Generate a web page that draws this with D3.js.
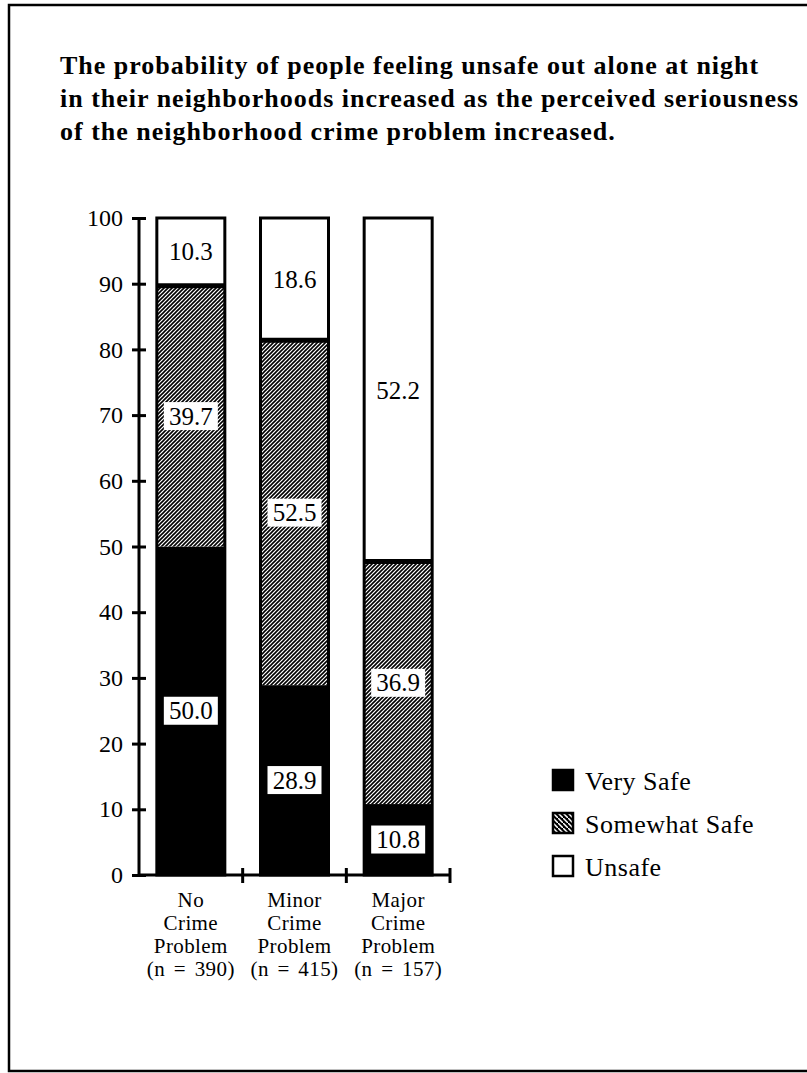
<!DOCTYPE html>
<html>
<head>
<meta charset="utf-8">
<script src="https://cdn.jsdelivr.net/npm/d3@7"></script>
<style>
  body { margin: 0; background: #fff; }
  svg { display: block; }
  text { font-family: "Liberation Serif", "DejaVu Serif", serif; fill: #000; }
</style>
</head>
<body>
<svg id="main_svg" width="807" height="1073"></svg>
<script>
// data
const categories = ["No", "Minor", "Major"]
const cat_lines = [
    ["No", "Crime", "Problem", "(n = 390)"],
    ["Minor", "Crime", "Problem", "(n = 415)"],
    ["Major", "Crime", "Problem", "(n = 157)"]
]
const very_safe = [50.0, 28.9, 10.8]
const somewhat_safe = [39.7, 52.5, 36.9]
const unsafe = [10.3, 18.6, 52.2]
const series_names = ["Very Safe", "Somewhat Safe", "Unsafe"]
const y_ticks = [0, 10, 20, 30, 40, 50, 60, 70, 80, 90, 100]
const title_lines = [
    "The probability of people feeling unsafe out alone at night",
    "in their neighborhoods increased as the perceived seriousness",
    "of the neighborhood crime problem increased."
]

const svg = d3.select("#main_svg")

// frame (no right edge in the scan)
svg.append("path")
    .attr("d", "M830,5 H9 V1071 H830")
    .attr("fill", "none").attr("stroke", "#000").attr("stroke-width", 2.5)

// hatch patterns
const defs = svg.append("defs")
defs.append("pattern")
    .attr("id", "hatch")
    .attr("patternUnits", "userSpaceOnUse")
    .attr("width", 4).attr("height", 4)
    .call(p => {
        p.append("rect").attr("width", 4).attr("height", 4).attr("fill", "#fff")
        p.append("path").attr("d", "M-1,1 l2,-2 M0,4 l4,-4 M3,5 l2,-2")
            .attr("stroke", "#000").attr("stroke-width", 1.6)
    })
defs.append("pattern")
    .attr("id", "hatch_legend")
    .attr("patternUnits", "userSpaceOnUse")
    .attr("width", 5).attr("height", 5)
    .call(p => {
        p.append("rect").attr("width", 5).attr("height", 5).attr("fill", "#000")
        p.append("path").attr("d", "M-1,-1 l2,2 M0,0 l5,5 M4,4 l2,2")
            .attr("stroke", "#fff").attr("stroke-width", 1.5)
    })
const fills = ["#000", "url(#hatch)", "#fff"]
const legend_fills = ["#000", "url(#hatch_legend)", "#fff"]

// title
svg.append("g").selectAll("text")
    .data(title_lines)
    .join("text")
    .attr("x", 60)
    .attr("y", (d, i) => 74 + i * 33)
    .attr("font-size", 26)
    .attr("letter-spacing", 1)
    .attr("font-weight", "bold")
    .text(d => d)

// scales
const y = d3.scaleLinear().domain([0, 100]).range([875, 218])
const x = d3.scaleBand().domain(categories).range([139, 450]).padding(0)
const bar_w = 68

const table = categories.map((c, i) => ({
    cat: c, "Very Safe": very_safe[i], "Somewhat Safe": somewhat_safe[i], "Unsafe": unsafe[i]
}))
const stacked = d3.stack().keys(series_names)(table)

// bar segments
stacked.forEach((layer, k) => {
    svg.append("g").selectAll("rect")
        .data(layer)
        .join("rect")
        .attr("x", d => x(d.data.cat) + (x.bandwidth() - bar_w) / 2)
        .attr("y", d => y(d[1]))
        .attr("width", bar_w)
        .attr("height", d => y(d[0]) - y(d[1]))
        .attr("fill", fills[k])
})

// thick line between hatched and unsafe
svg.append("g").selectAll("line")
    .data(stacked[1])
    .join("line")
    .attr("x1", d => x(d.data.cat) + (x.bandwidth() - bar_w) / 2)
    .attr("x2", d => x(d.data.cat) + (x.bandwidth() + bar_w) / 2)
    .attr("y1", d => y(d[1]))
    .attr("y2", d => y(d[1]))
    .attr("stroke", "#000").attr("stroke-width", 5)

// bar outlines
svg.append("g").selectAll("rect")
    .data(categories)
    .join("rect")
    .attr("x", d => x(d) + (x.bandwidth() - bar_w) / 2)
    .attr("y", y(100))
    .attr("width", bar_w)
    .attr("height", y(0) - y(100))
    .attr("fill", "none")
    .attr("stroke", "#000").attr("stroke-width", 3)

// value labels
stacked.forEach(layer => {
    const g = svg.append("g").selectAll("g")
        .data(layer)
        .join("g")
        .attr("transform", d => `translate(${x(d.data.cat) + x.bandwidth() / 2},${y((d[0] + d[1]) / 2)})`)
    g.append("rect")
        .attr("x", -27).attr("y", -14)
        .attr("width", 54).attr("height", 28)
        .attr("fill", "#fff")
    g.append("text")
        .attr("text-anchor", "middle")
        .attr("dy", "0.34em")
        .attr("font-size", 25)
        .text(d => (d[1] - d[0]).toFixed(1))
})

// y axis
const y_axis = svg.append("g")
    .attr("transform", `translate(${x.range()[0]},0)`)
    .call(d3.axisLeft(y).tickValues(y_ticks).tickSize(7).tickPadding(9))
y_axis.select(".domain").attr("d", `M0,${y(100)}V${y(0)}`).attr("stroke-width", 3)
y_axis.selectAll(".tick line").attr("x1", -7).attr("x2", 7).attr("stroke-width", 3)
y_axis.selectAll(".tick text")
    .attr("font-family", "Liberation Serif")
    .attr("font-size", 24)
    .attr("x", -16)

// x axis
const x_axis = svg.append("g")
svg.append("line")
    .attr("x1", x.range()[0]).attr("x2", x.range()[1])
    .attr("y1", y(0)).attr("y2", y(0))
    .attr("stroke", "#000").attr("stroke-width", 3)
x_axis.selectAll("line")
    .data(categories)
    .join("line")
    .attr("x1", d => x(d) + x.bandwidth())
    .attr("x2", d => x(d) + x.bandwidth())
    .attr("y1", y(0) - 7).attr("y2", y(0) + 8)
    .attr("stroke", "#000").attr("stroke-width", 3)
x_axis.selectAll("text")
    .data(categories)
    .join("text")
    .attr("text-anchor", "middle")
    .attr("font-size", 21)
    .attr("letter-spacing", 0.4)
    .attr("word-spacing", 3)
    .attr("x", d => x(d) + x.bandwidth() / 2)
    .attr("y", y(0) + 32)
    .each(function (d, i) {
        d3.select(this).selectAll("tspan")
            .data(cat_lines[i])
            .join("tspan")
            .attr("x", x(d) + x.bandwidth() / 2)
            .attr("dy", (t, j) => j === 0 ? 0 : 23)
            .text(t => t)
    })

// legend
const legend = svg.append("g").selectAll("g")
    .data(series_names)
    .join("g")
    .attr("transform", (d, i) => `translate(553,${770 + i * 43})`)
legend.append("rect")
    .attr("width", 20).attr("height", 20)
    .attr("fill", (d, i) => legend_fills[i])
    .attr("stroke", "#000").attr("stroke-width", 2.5)
legend.append("text")
    .attr("x", 32).attr("y", 20)
    .attr("font-size", 26)
    .attr("letter-spacing", 0.5)
    .text(d => d)
</script>
</body>
</html>
